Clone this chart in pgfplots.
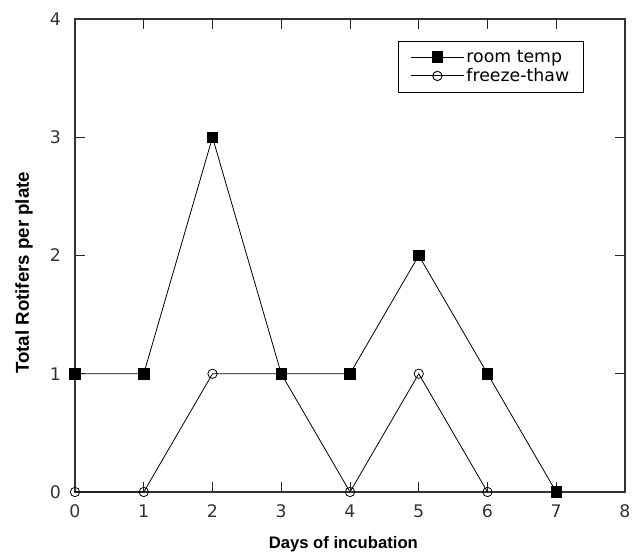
\documentclass[border=0pt]{standalone}
\usepackage{pgfplots}
\pgfplotsset{compat=1.18}
\usepackage{fontspec}
\setmainfont{DejaVu Sans}
\newfontfamily\labfont{Liberation Sans}
\begin{document}
\begin{tikzpicture}
\begin{axis}[
  scale only axis,
  width=412.5pt, height=354.75pt,
  xmin=0, xmax=8, ymin=0, ymax=4,
  xtick={0,...,8}, ytick={0,...,4},
  tick align=inside,
  major tick length=7.5pt,
  tick style={black!85, line width=0.7pt},
  axis line style={line width=1.3pt, black!80},
  /pgf/number format/assume math mode=true,
  ticklabel style={font=\fontsize{13}{15}\selectfont, text=black!80},
  xticklabel style={yshift=-6pt},
  yticklabel style={xshift=-7pt},
  xlabel={\labfont\bfseries Days of incubation},
  ylabel={\labfont\bfseries Total Rotifers per plate},
  xlabel style={font=\fontsize{12.5}{14}\selectfont, at={(axis description cs:0.5,0)}, anchor=north, inner sep=0pt, yshift=-33pt, xshift=-5pt},
  ylabel style={font=\fontsize{14}{16}\selectfont, at={(axis description cs:0,0.5)}, anchor=south, inner sep=0pt, xshift=-13pt, yshift=31.5pt},
  clip=false,
  legend style={at={(0.925,0.9535)}, anchor=north east, draw=black, line width=0.8pt,
    font=\fontsize{13}{15}\selectfont, inner xsep=9pt, inner ysep=5pt,
    row sep=0pt, nodes={inner sep=1.5pt}},
  legend cell align=left,
  legend image code/.code={\draw[mark repeat=2,mark phase=2, line width=0.7pt] plot coordinates {(0cm,0cm) (0.7cm,0cm) (1.4cm,0cm)};},
]
\coordinate (bl) at (rel axis cs:0,0);
\coordinate (tr) at (rel axis cs:1,1);
\addplot[black, line width=0.6pt, mark=square*, mark size=4pt, mark options={solid, fill=black}]
  coordinates {(0,1) (1,1) (2,3) (3,1) (4,1) (5,2) (6,1) (7,0)};
\addlegendentry{room temp}
\addplot[black, line width=0.6pt, mark=o, mark size=3.5pt, mark options={solid, fill=white}]
  coordinates {(0,0) (1,0) (2,1) (3,1) (4,0) (5,1) (6,0)};
\addlegendentry{freeze-thaw}
\end{axis}
\pgfresetboundingbox
\path ([shift={(-56.25pt,-46.5pt)}]bl) rectangle ([shift={(11.25pt,14.25pt)}]tr);
\end{tikzpicture}
\end{document}
